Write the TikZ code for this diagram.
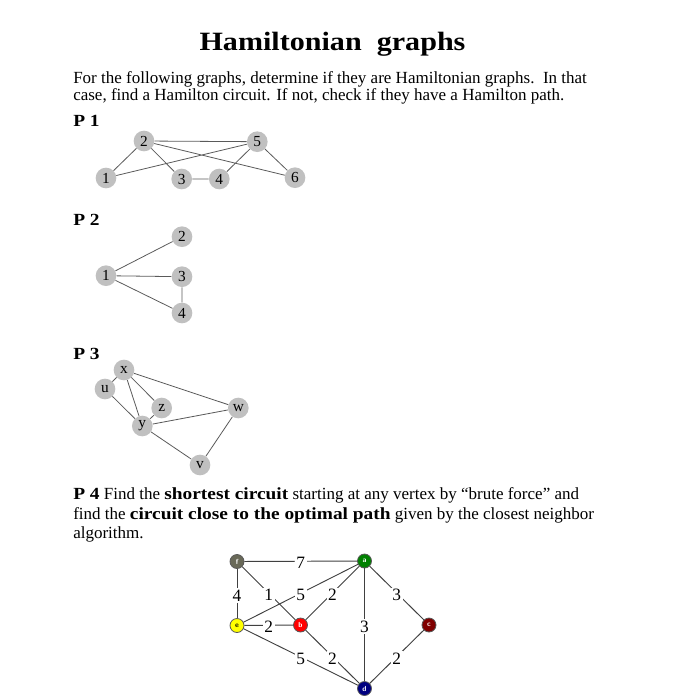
\documentclass[tikz,border=0pt]{standalone}
\usepackage{fontspec}
\setmainfont{Liberation Serif}[BoldFeatures={FakeStretch=1.14}]
\definecolor{nodegray}{RGB}{192,192,192}
\definecolor{edgegray}{RGB}{90,90,90}
\definecolor{fcol}{RGB}{105,105,88}
\definecolor{acol}{RGB}{0,128,0}
\definecolor{ecol}{RGB}{255,255,0}
\definecolor{bcol}{RGB}{255,0,0}
\definecolor{ccol}{RGB}{128,0,0}
\definecolor{dcol}{RGB}{0,0,128}
\tikzset{
  body/.style={anchor=base west, inner sep=0pt, font=\fontsize{12.75}{14}\selectfont},
  plabel/.style={anchor=base west, inner sep=0pt, font=\fontsize{12.75}{14}\selectfont\bfseries},
  gnode/.style={circle, fill=nodegray, inner sep=0pt, minimum size=15.5pt, font=\fontsize{11.5}{12}\selectfont},
  gedge/.style={draw=edgegray, line width=0.6pt},
  wnode/.style={circle, draw=black!65, line width=0.6pt, inner sep=0pt, minimum size=10.5pt, font=\fontsize{5.5}{6}\selectfont\bfseries\sffamily, text=white},
  wedge/.style={draw=black!75, line width=0.7pt},
  wlab/.style={fill=white, inner sep=1.2pt, font=\fontsize{13}{13}\selectfont, yshift=-1.5pt}
}
\begin{document}
\begin{tikzpicture}[x=0.75pt,y=-0.75pt]
\useasboundingbox (0,0) rectangle (692,700);

% title and text
\node[anchor=base, inner sep=0pt, font=\fontsize{19.8}{22}\selectfont\bfseries] (title) at (332.5,50) {Hamiltonian\ \ graphs};
\node[body] (l1) at (73,83.3) {For the following graphs, determine if they are Hamiltonian graphs.\ \ In that};
\node[body] (l2) at (73,100.7) {case, find a Hamilton circuit. If not, check if they have a Hamilton path.};

% P1
\node[plabel] (p1) at (73,126.5) {P 1};
\node[gnode] (n1) at (106,178) {1};
\node[gnode] (n2) at (144,141) {2};
\node[gnode] (n3) at (181.7,179) {3};
\node[gnode] (n4) at (219.3,179) {4};
\node[gnode] (n5) at (257.3,141.7) {5};
\node[gnode] (n6) at (295,177.7) {6};
\path[gedge] (n1) -- (n2) (n1) -- (n5) (n2) -- (n5) (n2) -- (n3) (n2) -- (n6)
  (n3) -- (n4) (n4) -- (n5) (n5) -- (n6);

% P2
\node[plabel] (p2) at (73,225) {P 2};
\node[gnode] (m1) at (106,275.7) {1};
\node[gnode] (m2) at (182,236.7) {2};
\node[gnode] (m3) at (182,276.7) {3};
\node[gnode] (m4) at (182,313) {4};
\path[gedge] (m1) -- (m2) (m1) -- (m3) (m1) -- (m4) (m3) -- (m4);

% P3
\node[plabel] (p3) at (73,359) {P 3};
\node[gnode] (x) at (124,370) {x};
\node[gnode] (u) at (105,389) {u};
\node[gnode] (z) at (161.7,408) {z};
\node[gnode] (w) at (238.3,408) {w};
\node[gnode] (y) at (142.3,426) {y};
\node[gnode] (v) at (200,465) {v};
\path[gedge] (u) -- (x) (u) -- (y) (x) -- (y) (x) -- (z) (x) -- (w)
  (z) -- (y) (y) -- (w) (y) -- (v) (v) -- (w);

% P4 text
\node[body] (q1) at (73,499.5) {\textbf{P 4} Find the \textbf{shortest circuit} starting at any vertex by “brute force” and};
\node[body] (q2) at (73,519) {find the \textbf{circuit close to the optimal path} given by the closest neighbor};
\node[body] (q3) at (73,538.5) {algorithm.};

% P4 graph
\node[wnode, fill=fcol] (f) at (237,561.5) {f};
\node[wnode, fill=acol] (a) at (364.5,561) {a};
\node[wnode, fill=ecol, text=black] (e) at (237,625.5) {e};
\node[wnode, fill=bcol] (b) at (300.5,625) {b};
\node[wnode, fill=ccol] (c) at (429,625) {c};
\node[wnode, fill=dcol] (d) at (364.5,688.5) {d};
\path[wedge] (f) -- node[wlab] {7} (a);
\path[wedge] (f) -- node[wlab] {4} (e);
\path[wedge] (f) -- node[wlab] {1} (b);
\path[wedge] (e) -- node[wlab] {5} (a);
\path[wedge] (b) -- node[wlab] {2} (a);
\path[wedge] (a) -- node[wlab] {3} (c);
\path[wedge] (a) -- node[wlab] {3} (d);
\path[wedge] (e) -- node[wlab] {2} (b);
\path[wedge] (e) -- node[wlab] {5} (d);
\path[wedge] (b) -- node[wlab] {2} (d);
\path[wedge] (c) -- node[wlab] {2} (d);
\end{tikzpicture}
\end{document}
